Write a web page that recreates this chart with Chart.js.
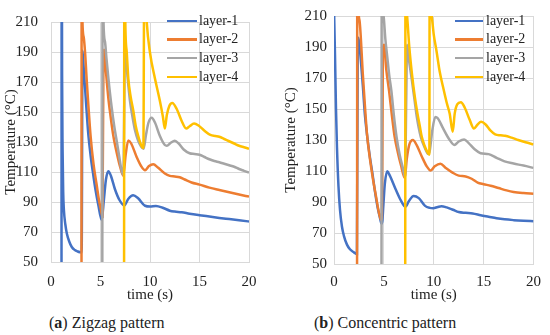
<!DOCTYPE html>
<html>
<head>
<meta charset="utf-8">
<script src="https://cdn.jsdelivr.net/npm/chart.js@4.4.1/dist/chart.umd.min.js"></script>
<style>
  body { margin: 0; background: #fff; }
  #wrap { position: relative; width: 550px; height: 335px; font-family: "Liberation Serif", serif; color: #222; }
  canvas { position: absolute; top: 0; }
  .caption { position: absolute; top: 314px; font-size: 16px; line-height: 18px; white-space: nowrap; }
  .legend { position: absolute; font-size: 14px; }
  .legend .row { position: relative; height: 18.7px; line-height: 18.7px; white-space: nowrap; }
  .legend .swatch { position: absolute; left: 0; top: 8.1px; height: 2.5px; }
</style>
</head>
<body>
<div id="wrap">
  <canvas id="zigzag" width="275" height="305" style="left:0"></canvas>
  <canvas id="concentric" width="275" height="305" style="left:275px"></canvas>
  <div id="legend-zigzag" class="legend" style="left:167px; top:11.5px"></div>
  <div id="legend-concentric" class="legend" style="left:455px; top:11.5px"></div>
  <div class="caption" style="left:49px">(<b>a</b>) Zigzag pattern</div>
  <div class="caption" style="left:314px">(<b>b</b>) Concentric pattern</div>
</div>
<script>
const layerNames = ["layer-1", "layer-2", "layer-3", "layer-4"];
const layerColors = ["#4472C4", "#ED7D31", "#A5A5A5", "#FFC000"];
const timeTicks = [0, 5, 10, 15, 20];
const tempTicks = [50, 70, 90, 110, 130, 150, 170, 190, 210];

// (a) zigzag, [time, temperature]
const zigzagLayer1 = [[1.06, 20], [1.08, 300], [1.12, 175], [1.17, 125], [1.23, 97], [1.3, 85], [1.45, 75], [1.6, 69],
  [1.85, 63.5], [2.1, 60], [2.4, 58], [2.7, 57], [2.95, 56.5], [3.1, 56.3], [3.18, 191], [3.3, 180], [3.5, 160],
  [3.77, 135], [4.0, 121], [4.27, 108], [4.5, 98], [4.78, 88], [5.12, 78], [5.35, 92], [5.55, 105], [5.8, 110.5],
  [6.05, 107.5], [6.46, 98.5], [6.9, 91.5], [7.4, 87.7], [7.8, 92], [8.3, 94.5], [8.8, 92.5], [9.5, 87.5], [10.0, 87],
  [10.6, 87.4], [11.35, 86], [12.0, 84.2], [12.5, 83.6], [13.2, 83.2], [14, 82.2], [15, 81.2], [16, 80.3], [17, 79.4],
  [18, 78.6], [19, 77.8], [20, 77]];
const zigzagLayer2 = [[3.08, 20], [3.1, 300], [3.17, 212], [3.3, 200], [3.45, 189], [3.6, 172], [3.77, 155], [4.0, 134],
  [4.3, 115], [4.6, 102], [4.85, 91], [5.05, 84.5], [5.2, 80], [5.3, 185], [5.39, 191.5], [5.55, 177], [5.79, 159.5],
  [6.0, 148], [6.3, 134], [6.7, 121], [7.0, 113], [7.3, 107.5], [7.55, 122], [7.81, 131], [8.1, 129], [8.65, 120],
  [9.1, 114], [9.5, 111.2], [9.9, 114], [10.33, 115.2], [10.8, 113], [11.5, 109], [12.0, 107.4], [12.5, 107],
  [13.0, 106.5], [13.5, 105], [14.2, 103], [15, 101.6], [16, 99.6], [17, 98], [18, 96.5], [19, 95], [20, 93.6]];
const zigzagLayer3 = [[5.18, 20], [5.22, 300], [5.3, 211], [5.45, 197], [5.6, 186], [5.79, 173], [6.13, 153], [6.4, 140],
  [6.63, 131], [6.9, 120], [7.1, 112], [7.3, 108], [7.48, 191], [7.75, 172], [7.98, 157.3], [8.2, 148], [8.48, 138],
  [8.8, 131], [9.1, 127], [9.35, 125.5], [9.6, 135], [9.85, 143], [10.17, 146.2], [10.5, 143], [11.0, 134], [11.5, 128],
  [11.7, 127.5], [12.1, 129.5], [12.5, 130.8], [12.9, 129], [13.4, 125], [14.0, 122.5], [14.5, 122], [15.0, 121.5],
  [15.5, 120], [16.0, 118.5], [16.5, 117.3], [17.0, 116.5], [17.5, 115.5], [18.0, 114.5], [18.5, 113.5], [19.0, 112],
  [19.5, 110.8], [20, 109.6]];
const zigzagLayer4 = [[7.38, 20], [7.41, 300], [7.5, 212], [7.65, 190], [7.81, 172.3], [8.05, 160], [8.31, 151],
  [8.55, 141], [8.82, 133.7], [9.1, 128], [9.33, 126], [9.45, 300], [9.6, 220], [9.66, 211], [10.0, 189.5],
  [10.5, 172.3], [11.0, 157.3], [11.3, 147], [11.5, 139], [11.7, 148], [11.95, 154], [12.25, 156], [12.7, 152],
  [13.2, 144], [13.65, 139], [14.0, 140.5], [14.45, 142.3], [14.9, 141], [15.5, 137.5], [16.1, 134.7], [16.6, 134],
  [17.0, 133.5], [17.5, 132], [18.0, 130.5], [18.5, 129], [19, 127.5], [19.5, 126.5], [20, 125.5]];

// (b) concentric
const concentricLayer1 = [[0, 215], [0.1, 185], [0.2, 150], [0.3, 125], [0.45, 100], [0.6, 85], [0.8, 74], [1.0, 68],
  [1.3, 62.5], [1.6, 59.5], [2.0, 57.5], [2.3, 56.3], [2.38, 190], [2.45, 196], [2.6, 188], [2.89, 165], [3.1, 146],
  [3.3, 134], [3.6, 119], [3.87, 107.7], [4.1, 97], [4.37, 86.6], [4.6, 80], [4.76, 76], [4.85, 78], [4.95, 88],
  [5.1, 102], [5.35, 109.8], [5.6, 107], [6.18, 98.2], [6.7, 91], [7.16, 86.9], [7.5, 90.5], [7.98, 93.9], [8.5, 92.5],
  [9.13, 87.5], [9.6, 86.2], [9.95, 86], [10.4, 86.8], [10.77, 87.3], [11.3, 86.5], [11.92, 85], [12.5, 83.5],
  [13.2, 83], [13.9, 82.6], [14.7, 81.5], [15.5, 80.5], [16.3, 79.5], [17.1, 78.8], [18, 78.3], [19, 77.9], [20, 77.6]];
const concentricLayer2 = [[2.31, 20], [2.34, 300], [2.45, 215], [2.56, 207], [2.89, 172.4], [3.1, 152], [3.32, 133],
  [3.6, 118], [3.9, 105], [4.2, 94], [4.53, 82.3], [4.72, 78.5], [4.8, 80], [4.9, 185], [5.02, 191.5], [5.25, 175],
  [5.52, 161.8], [5.8, 146], [6.08, 132], [6.4, 122], [6.7, 114], [7.09, 105.6], [7.3, 118], [7.55, 127], [7.91, 130],
  [8.3, 126.5], [8.8, 119.4], [9.3, 113], [9.69, 110.3], [10.1, 113], [10.67, 114.7], [11.2, 112], [11.92, 108.8],
  [12.5, 107], [13.2, 106.5], [13.8, 105], [14.4, 102.5], [15, 101.5], [15.7, 100.5], [16.5, 99], [17.3, 97.5],
  [18, 96.5], [19, 95.8], [20, 95.4]];
const concentricLayer3 = [[4.76, 20], [4.79, 300], [4.9, 215], [4.96, 210.6], [5.15, 195], [5.35, 183], [5.55, 171],
  [5.75, 161.8], [6.0, 146], [6.27, 132], [6.6, 120], [6.9, 112], [7.12, 106], [7.25, 160], [7.32, 191.5], [7.55, 180],
  [7.82, 168], [8.05, 157], [8.3, 145], [8.7, 132], [9.1, 125], [9.45, 121], [9.6, 123], [9.85, 136], [10.16, 144.8],
  [10.4, 144], [10.9, 138], [11.5, 131], [12.07, 126.8], [12.5, 129], [13.05, 130.4], [13.5, 128], [14.1, 124],
  [14.7, 121.5], [15.5, 120.9], [16.3, 118.5], [17.1, 116.2], [18, 114.8], [19, 113.5], [20, 112]];
const concentricLayer4 = [[7.14, 20], [7.17, 300], [7.28, 215], [7.32, 210.6], [7.55, 190], [7.82, 172.4], [8.1, 158],
  [8.37, 147], [8.6, 139], [8.8, 132], [9.1, 126], [9.3, 123], [9.56, 120.5], [9.6, 300], [9.72, 215], [9.78, 210.6],
  [10.0, 198], [10.28, 187.3], [10.6, 174], [10.94, 164], [11.3, 154], [11.6, 147], [11.9, 135.3], [12.1, 147],
  [12.35, 153], [12.72, 154.4], [13.1, 151], [13.6, 143], [14.03, 137.4], [14.4, 140], [14.75, 141.7], [15.2, 140],
  [15.7, 136], [16.16, 133.6], [16.7, 133], [17.15, 132.7], [17.8, 131.5], [18.46, 130], [19.2, 128.5], [20, 127.2]];

const textFont = { family: "Liberation Serif", size: 15 };
const textColor = "#222";
const gridColor = "#d9d9d9";

function buildLegend(id) {
  const box = document.getElementById(id);
  layerNames.forEach((name, i) => {
    const row = document.createElement("div");
    row.className = "row";
    row.style.paddingLeft = (id === "legend-zigzag" ? 32 : 31) + "px";
    const sw = document.createElement("span");
    sw.className = "swatch";
    sw.style.width = (id === "legend-zigzag" ? 30 : 28) + "px";
    sw.style.background = layerColors[i];
    row.appendChild(sw);
    row.appendChild(document.createTextNode(name));
    box.appendChild(row);
  });
}

function makeChart(id, series, box) {
  return new Chart(document.getElementById(id), {
    type: "line",
    data: {
      datasets: series.map((d, i) => ({
        label: layerNames[i],
        data: d,
        borderColor: layerColors[i],
        backgroundColor: layerColors[i],
        order: series.length - 1 - i,
      })),
    },
    options: {
      responsive: false,
      animation: false,
      layout: { padding: { top: 13, right: box.padRight, bottom: 0, left: 0 } },
      plugins: { legend: { display: false }, tooltip: { enabled: false } },
      elements: {
        point: { radius: 0 },
        line: { borderWidth: 2.5, cubicInterpolationMode: "monotone" },
      },
      scales: {
        x: {
          type: "linear",
          min: 0,
          max: 20,
          grid: { color: gridColor, drawTicks: false },
          border: { color: gridColor },
          ticks: { font: textFont, color: textColor, padding: box.xTickPad, maxRotation: 0, autoSkip: false },
          afterBuildTicks: (s) => { s.ticks = timeTicks.map((v) => ({ value: v })); },
          afterFit: (s) => { s.height = box.xAxisHeight; },
          title: { display: true, text: "time (s)", font: textFont, color: textColor, padding: { top: 0, bottom: 1 } },
        },
        y: {
          type: "linear",
          min: 50,
          max: 210,
          grid: { color: gridColor, drawTicks: false },
          border: { color: gridColor },
          ticks: { font: textFont, color: textColor, padding: box.yTickPad, autoSkip: false },
          afterBuildTicks: (s) => { s.ticks = tempTicks.map((v) => ({ value: v })); },
          afterFit: (s) => { s.width = box.yAxisWidth; },
          title: { display: true, text: "Temperature (°C)", font: textFont, color: textColor, padding: { top: box.yTitlePad, bottom: 0 } },
        },
      },
    },
  });
}

makeChart("zigzag", [zigzagLayer1, zigzagLayer2, zigzagLayer3, zigzagLayer4],
  { yAxisWidth: 51, padRight: 26, xAxisHeight: 43, xTickPad: 11, yTickPad: 13, yTitlePad: 2.5 });
makeChart("concentric", [concentricLayer1, concentricLayer2, concentricLayer3, concentricLayer4],
  { yAxisWidth: 59, padRight: 13, xAxisHeight: 41, xTickPad: 9, yTickPad: 7, yTitlePad: 7 });

buildLegend("legend-zigzag");
buildLegend("legend-concentric");
</script>
</body>
</html>
